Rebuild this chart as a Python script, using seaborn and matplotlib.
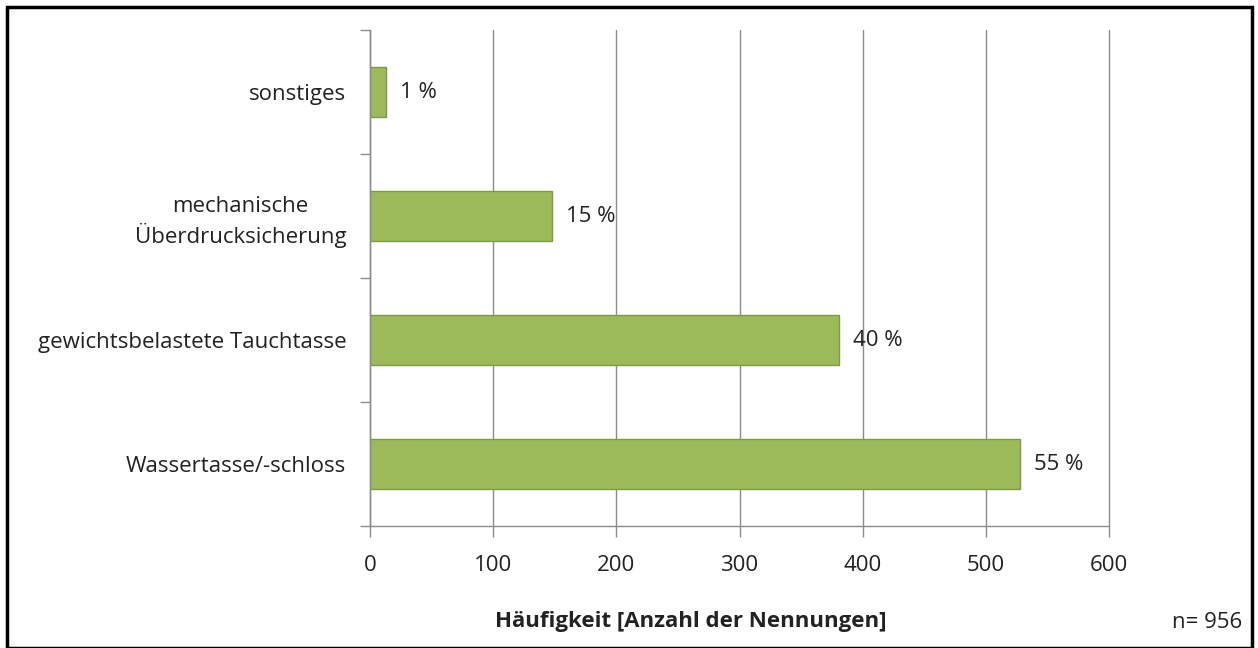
import matplotlib.pyplot as plt
from matplotlib.patches import Rectangle
import seaborn as sns
import pandas as pd

categories = ['sonstiges', 'mechanische\nÜberdrucksicherung',
              'gewichtsbelastete Tauchtasse', 'Wassertasse/-schloss']
counts = [13, 148, 381, 528]
percent_labels = ['1 %', '15 %', '40 %', '55 %']
x_ticks = [0, 100, 200, 300, 400, 500, 600]
n_total = 956

bar_color = '#9BBB59'
bar_edge = '#7E9A47'
grid_color = '#8C8C8C'
text_color = '#222222'
font_family = ['Open Sans', 'DejaVu Sans']
fs = 16


def main():
    df = pd.DataFrame({'category': categories, 'count': counts})

    sns.set_style('white')
    plt.rcParams['font.family'] = font_family

    fig = plt.figure(figsize=(12.58, 6.48), dpi=100)
    ax = fig.add_axes([370 / 1258, 1 - 526 / 648, 739 / 1258, 496 / 648])

    sns.barplot(data=df, x='count', y='category', orient='h', color=bar_color,
                edgecolor=bar_edge, linewidth=1, width=0.4, saturation=1, ax=ax)

    ax.bar_label(ax.containers[0], labels=percent_labels, padding=10,
                 fontsize=fs, color=text_color)

    ax.set_xlim(0, 600)
    ax.set_xticks(x_ticks)
    ax.set_ylim(3.5, -0.5)
    # category boundaries get the tick marks, names sit on minor ticks
    ax.set_yticks([-0.5, 0.5, 1.5, 2.5, 3.5], minor=False)
    ax.set_yticklabels([])
    ax.set_yticks(range(len(categories)), minor=True)
    ax.set_yticklabels(categories, minor=True, fontsize=fs, color=text_color,
                       multialignment='center', linespacing=1.3)
    ax.tick_params(axis='y', which='minor', left=False, length=0, pad=17)
    ax.tick_params(axis='y', which='major', left=True, length=7, width=1,
                   color=grid_color, direction='out')
    ax.tick_params(axis='x', bottom=True, length=8, width=1, color=grid_color,
                   direction='out', labelsize=fs, labelcolor=text_color, pad=13)
    ax.xaxis.grid(True, color=grid_color, linewidth=1)
    for gl in ax.get_xgridlines():
        gl.set_clip_on(False)
    ax.set_axisbelow(True)
    for side in ['top', 'right']:
        ax.spines[side].set_visible(False)
    for side in ['left', 'bottom']:
        ax.spines[side].set_color(grid_color)
        ax.spines[side].set_linewidth(1)
    ax.set_xlabel('')
    ax.set_ylabel('')

    fig.text(691 / 1258, 1 - 621 / 648, 'Häufigkeit [Anzahl der Nennungen]',
             ha='center', va='center', fontsize=fs, fontweight='bold', color=text_color)
    fig.text(1207 / 1258, 1 - 623 / 648, f'n= {n_total}',
             ha='center', va='center', fontsize=fs, color=text_color)

    fig.patches.append(Rectangle((7 / 1258, 0), 1245 / 1258, 1 - 7 / 648,
                                 transform=fig.transFigure, fill=False,
                                 edgecolor='black', linewidth=2.5))

    fig.savefig('out.png', dpi=100)


if __name__ == '__main__':
    main()
